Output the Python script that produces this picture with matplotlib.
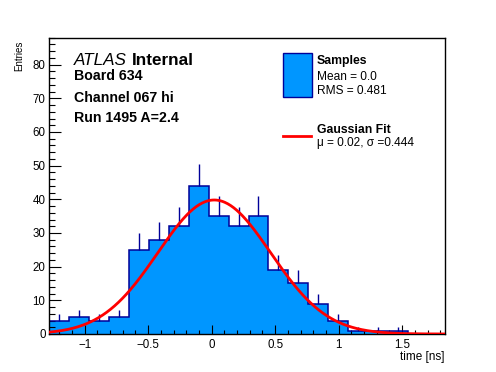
import numpy as np
import matplotlib
matplotlib.use("Agg")
import matplotlib.pyplot as plt
from matplotlib.ticker import MultipleLocator
from matplotlib.patches import Rectangle
from matplotlib.lines import Line2D

plt.rcParams['font.family'] = ['Liberation Sans', 'DejaVu Sans']

# histogram data
x_lo = -1.28
bin_width = 0.157
counts = np.array([4, 5, 4, 5, 25, 28, 32, 44, 35, 32, 35, 19, 15, 9, 4, 1, 1, 1, 0, 0])
x_range = (-1.281, 1.837)
y_max = 88

# gaussian fit parameters
fit_amp = 39.8
fit_mu = 0.02
fit_sigma = 0.444

xtick_vals = [-1, -0.5, 0, 0.5, 1, 1.5]
xtick_labels = ['\u22121', '\u22120.5', '0', '0.5', '1', '1.5']
ytick_vals = [0, 10, 20, 30, 40, 50, 60, 70, 80]

W, H = 496, 372
fig = plt.figure(figsize=(W / 100, H / 100), dpi=100)

def fx(px):
    return px / W

def fy(py):
    return 1 - py / H

ax = fig.add_axes([fx(49), fy(334), fx(445) - fx(49), fy(37.7) - fy(334)])

edges = x_lo + bin_width * np.arange(len(counts) + 1)
centers = 0.5 * (edges[:-1] + edges[1:])

ax.stairs(counts, edges, fill=True, color='#0096ff', zorder=1)
ax.stairs(counts, edges, color='#000099', linewidth=1.1, zorder=2)
nz = counts > 0
ax.vlines(centers[nz], counts[nz], counts[nz] + np.sqrt(counts[nz]),
          color='#000099', linewidth=1.0, zorder=2)

xs = np.linspace(x_range[0], x_range[1], 400)
ax.plot(xs, fit_amp * np.exp(-0.5 * ((xs - fit_mu) / fit_sigma) ** 2),
        color='red', linewidth=2, zorder=3)

ax.set_xlim(*x_range)
ax.set_ylim(0, y_max)
ax.set_xticks(xtick_vals)
ax.set_xticklabels(xtick_labels)
ax.set_yticks(ytick_vals)
ax.xaxis.set_minor_locator(MultipleLocator(0.1))
ax.yaxis.set_minor_locator(MultipleLocator(2))
ax.tick_params(axis='both', which='both', direction='in', labelsize=8.3, width=0.8)
ax.tick_params(axis='y', which='major', length=8.4, pad=2.5)
ax.tick_params(axis='y', which='minor', length=4.2)
ax.tick_params(axis='x', which='major', length=6.5, pad=3.5)
ax.tick_params(axis='x', which='minor', length=3.2)
for s in ax.spines.values():
    s.set_linewidth(1.0)

fig.text(fx(445), fy(357), 'time [ns]', ha='right', va='center', fontsize=8.5)
fig.text(fx(19), fy(41), 'Entries', ha='center', va='top', rotation=90, fontsize=7)

# ATLAS label block
t = fig.text(fx(74), fy(65), 'ATLAS', style='italic', fontsize=12.3, va='baseline')
fig.canvas.draw()
bb = t.get_window_extent()
fig.text((bb.x1 + 5) / W, fy(65), 'Internal', fontweight='bold', fontsize=12.3, va='baseline')
fig.text(fx(74), fy(80), 'Board 634', fontweight='bold', fontsize=10.2, va='baseline')
fig.text(fx(74), fy(101.7), 'Channel 067 hi', fontweight='bold', fontsize=10.2, va='baseline')
fig.text(fx(74), fy(121.7), 'Run 1495 A=2.4', fontweight='bold', fontsize=10.2, va='baseline')

# legend
fig.patches.append(Rectangle((fx(283.3), fy(96.7)), fx(311.7) - fx(283.3), fy(53.3) - fy(96.7),
                             transform=fig.transFigure, facecolor='#0096ff',
                             edgecolor='#000099', linewidth=1.0))
fig.lines.append(Line2D([fx(283), fx(311)], [fy(136), fy(136)], transform=fig.transFigure,
                        color='red', linewidth=2))
fig.text(fx(317), fy(64), 'Samples', fontweight='bold', fontsize=8.8, va='baseline')
fig.text(fx(317), fy(80), 'Mean = 0.0', fontsize=8.6, va='baseline')
fig.text(fx(317), fy(94), 'RMS = 0.481', fontsize=8.6, va='baseline')
fig.text(fx(317), fy(133.3), 'Gaussian Fit', fontweight='bold', fontsize=8.8, va='baseline')
fig.text(fx(317), fy(146), '\u03bc = 0.02, \u03c3 =0.444', fontsize=8.6, va='baseline')

fig.savefig('out.png', dpi=100)
